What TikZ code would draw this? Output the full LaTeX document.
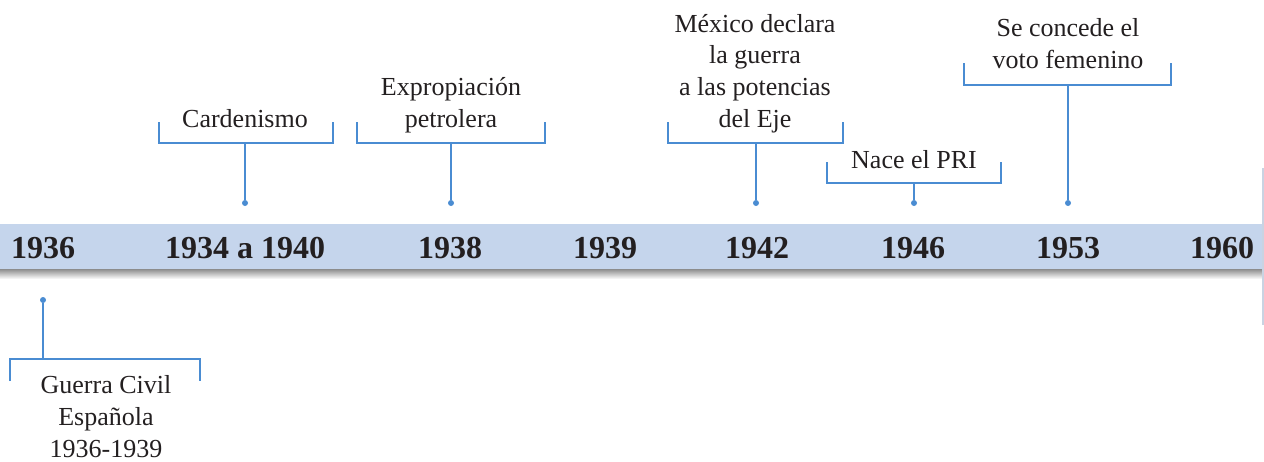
\documentclass[tikz,border=0pt]{standalone}
\usepackage{fontspec}
\setmainfont{Liberation Serif}
\usetikzlibrary{positioning}
\definecolor{bandblue}{HTML}{C5D5EC}
\definecolor{lineblue}{HTML}{4A8CD2}
\definecolor{txtgray}{HTML}{231F20}
\definecolor{edgegray}{HTML}{C9D3E2}

\begin{document}
\begin{tikzpicture}[x=0.5pt, y=-0.5pt,
  yr/.style={font=\bfseries\fontsize{16}{18}\selectfont, text=txtgray, anchor=base},
  ev/.style={align=center, font=\fontsize{13}{15.8}\selectfont, text=txtgray,
             inner sep=0pt, anchor=base},
  brk/.style={draw=lineblue, line width=0.8pt},
  stem/.style={draw=lineblue, line width=1.1pt},
  dot/.style={circle, fill=lineblue, inner sep=0pt, minimum size=3pt},
]
\useasboundingbox (0,0) rectangle (1264,461);

% band
\shade[top color=black!45, bottom color=white] (0,269) rectangle (1262,279);
\fill[bandblue] (0,224) rectangle (1262,269);
\draw[edgegray, line width=1pt] (1262.5,168) -- (1262.5,325);

% years
\node[yr] (y36)   at (43,258)   {1936};
\node[yr] (y3440) at (245,258)  {1934 a 1940};
\node[yr] (y38)   at (450,258)  {1938};
\node[yr] (y39)   at (605,258)  {1939};
\node[yr] (y42)   at (757,258)  {1942};
\node[yr] (y46)   at (913,258)  {1946};
\node[yr] (y53)   at (1068,258) {1953};
\node[yr] (y60)   at (1222,258) {1960};

% events
\node[ev] (card)  at (245,127)  {Cardenismo};
\node[ev] (expr)  at (451,127)  {Expropiación\\petrolera};
\node[ev] (mex)   at (755,127)  {México declara\\la guerra\\a las potencias\\del Eje};
\node[ev] (pri)   at (914,168)  {Nace el PRI};
\node[ev] (voto)  at (1068,68)  {Se concede el\\voto femenino};
\node[ev] (guer)  at (106,457)  {Guerra Civil\\Española\\1936-1939};

% dots
\node[dot] (dcard) at (245,203)  {};
\node[dot] (dexpr) at (451,203)  {};
\node[dot] (dmex)  at (756,203)  {};
\node[dot] (dpri)  at (914,203)  {};
\node[dot] (dvoto) at (1068,203) {};
\node[dot] (dguer) at (43,300)   {};

\coordinate (bcard) at (245,143);
\coordinate (bexpr) at (451,143);
\coordinate (bmex)  at (756,143);
\coordinate (bpri)  at (914,183);
\coordinate (bvoto) at (1068,85);
\coordinate (bguer) at (43,359);

% brackets
\draw[brk] (159,122) |- (333,143) -- (333,122);
\draw[brk] (357,122) |- (545,143) -- (545,122);
\draw[brk] (668,122) |- (843,143) -- (843,122);
\draw[brk] (827,162) |- (1001,183) -- (1001,162);
\draw[brk] (964,63) |- (1171,85) -- (1171,63);
\draw[brk] (10,381) |- (200,359) -- (200,381);

\draw[stem] (dcard) -- (bcard);
\draw[stem] (dexpr) -- (bexpr);
\draw[stem] (dmex) -- (bmex);
\draw[stem] (dpri) -- (bpri);
\draw[stem] (dvoto) -- (bvoto);
\draw[stem] (dguer) -- (bguer);
\end{tikzpicture}
\end{document}
